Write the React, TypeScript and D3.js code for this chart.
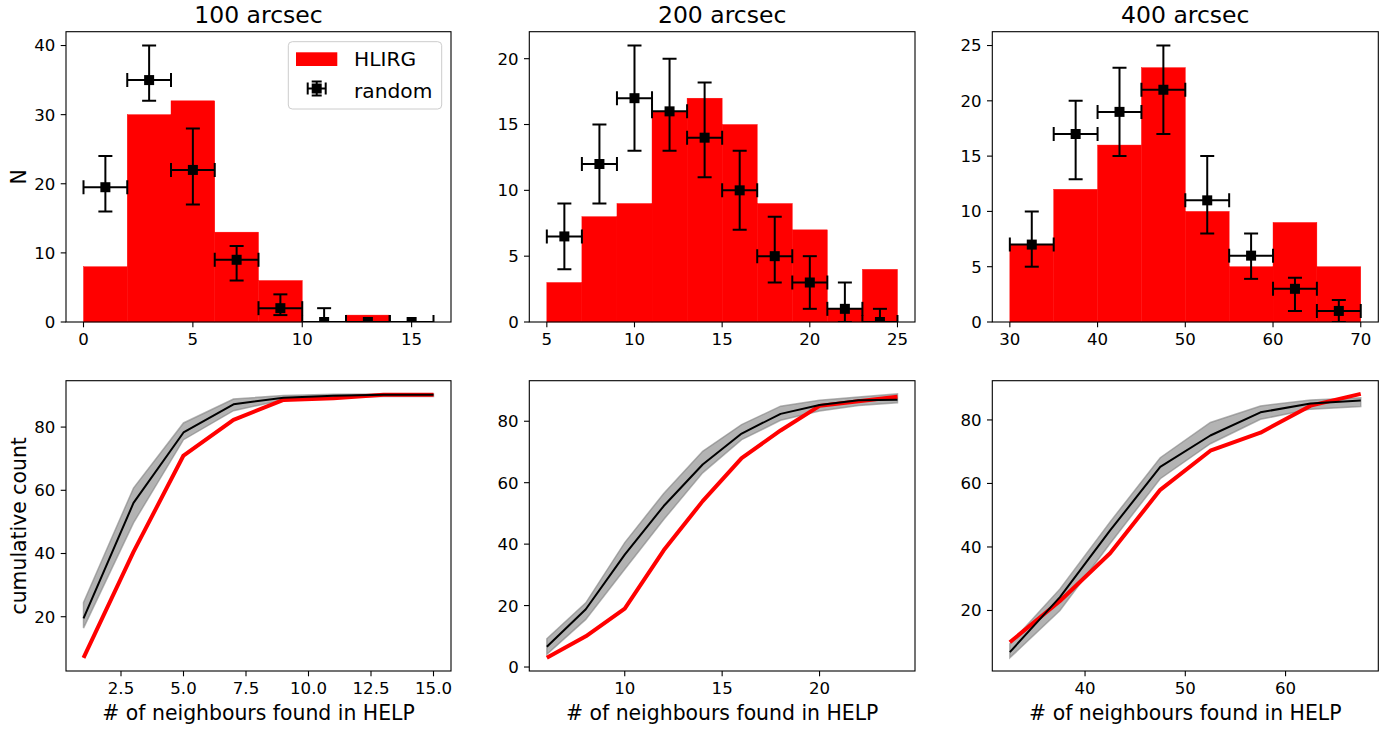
import React from 'react';
import * as d3 from 'd3';

// ---------- data ----------
const titles = ['100 arcsec', '200 arcsec', '400 arcsec'];

// top row: histograms (HLIRG) and random errorbars
const bins100 = [0, 2, 4, 6, 8, 10, 12, 14, 16];
const hlirg100 = [8, 30, 32, 13, 6, 0, 1, 0];
const randX100 = [1, 3, 5, 7, 9, 11, 13, 15];
const rand100 = [19.5, 35, 22, 9, 2, 0, 0, 0];
const rand100Lo = [16, 32, 17, 6, 1, 0, 0, 0];
const rand100Hi = [24, 40, 28, 11, 4, 2, 0, 0];

const bins200 = [5, 7, 9, 11, 13, 15, 17, 19, 21, 23, 25];
const hlirg200 = [3, 8, 9, 16, 17, 15, 9, 7, 1, 4];
const randX200 = [6, 8, 10, 12, 14, 16, 18, 20, 22, 24];
const rand200 = [6.5, 12, 17, 16, 14, 10, 5, 3, 1, 0];
const rand200Lo = [4, 9, 13, 13, 11, 7, 3, 1, 0, 0];
const rand200Hi = [9, 15, 21, 20, 18.2, 13, 8, 5, 3, 1];

const bins400 = [30, 35, 40, 45, 50, 55, 60, 65, 70];
const hlirg400 = [7, 12, 16, 23, 10, 5, 9, 5];
const randX400 = [32.5, 37.5, 42.5, 47.5, 52.5, 57.5, 62.5, 67.5];
const rand400 = [7, 17, 19, 21, 11, 6, 3, 1];
const rand400Lo = [5, 12.9, 15, 17, 8, 3.9, 1, 0];
const rand400Hi = [10, 20, 23, 25, 15, 8, 4, 2];

// bottom row: cumulative counts
const cumX100 = [1, 3, 5, 7, 9, 11, 13, 15];
const cumH100 = [7, 40.5, 71, 82.3, 88.6, 89.1, 90.2, 90.2];
const cumR100 = [19.5, 56, 78.3, 87.2, 89.3, 89.9, 90.2, 90.2];
const band100Lo = [16.4, 49.7, 76, 85.2, 88.6, 89.4, 89.7, 89.7];
const band100Hi = [24.5, 60.7, 81.3, 88.9, 90, 90.4, 90.5, 90.5];

const cumX200 = [6, 8, 10, 12, 14, 16, 18, 20, 22, 24];
const cumH200 = [3, 10, 19, 38, 54, 68, 77, 85, 86.5, 88];
const cumR200 = [6.6, 18.8, 36.6, 52.4, 65.9, 76, 82.4, 85.3, 86.8, 87];
const band200Lo = [4.1, 15.5, 31.8, 48, 63.2, 74, 80.3, 83.3, 85.1, 86];
const band200Hi = [9.2, 20.9, 40.5, 56.5, 70.2, 78.9, 84.9, 86.8, 87.9, 88.9];

const cumX400 = [32.5, 37.5, 42.5, 47.5, 52.5, 57.5, 62.5, 67.5];
const cumH400 = [10, 23, 38, 58, 70.3, 76, 84.5, 88.2];
const cumR400 = [6.9, 24.2, 45.2, 65.2, 75.1, 82.4, 85.2, 86.1];
const band400Lo = [5.1, 20, 41.1, 61.5, 72.5, 80.2, 83.4, 84.2];
const band400Hi = [9.5, 26.8, 47.9, 68.1, 79.2, 84.4, 86.3, 87];

const topXTicks = [[0, 5, 10, 15], [5, 10, 15, 20, 25], [30, 40, 50, 60, 70]];
const topYTicks = [[0, 10, 20, 30, 40], [0, 5, 10, 15, 20], [0, 5, 10, 15, 20, 25]];
const botXTicks = [[2.5, 5, 7.5, 10, 12.5, 15], [10, 15, 20], [40, 50, 60]];
const botYTicks = [[20, 40, 60, 80], [0, 20, 40, 60, 80], [20, 40, 60, 80]];
const botXFmt = ['.1f', 'd', 'd'];

const legendLabels = ['HLIRG', 'random'];
const yLabelTop = 'N';
const yLabelBot = 'cumulative count';
const xLabelBot = '# of neighbours found in HELP';

// ---------- layout ----------
const COLS = [
  { x0: 66, x1: 451 },
  { x0: 529.3, x1: 915 },
  { x0: 992.3, x1: 1378.3 },
];
const TOP = { y0: 31.7, y1: 322 };
const BOT = { y0: 380.7, y1: 671 };
const FONT = 'DejaVu Sans, sans-serif';
const TICK = 5.3;
const PAD = 5.3;
const CAP = 7;
const RED = '#ff0000';
const TFS = 16.6;

const topData = [
  { bins: bins100, h: hlirg100, rx: randX100, r: rand100, lo: rand100Lo, hi: rand100Hi },
  { bins: bins200, h: hlirg200, rx: randX200, r: rand200, lo: rand200Lo, hi: rand200Hi },
  { bins: bins400, h: hlirg400, rx: randX400, r: rand400, lo: rand400Lo, hi: rand400Hi },
];
const botData = [
  { x: cumX100, h: cumH100, r: cumR100, lo: band100Lo, hi: band100Hi },
  { x: cumX200, h: cumH200, r: cumR200, lo: band200Lo, hi: band200Hi },
  { x: cumX400, h: cumH400, r: cumR400, lo: band400Lo, hi: band400Hi },
];

function Axes({ x, y, box, xTicks, yTicks, xFmt }: any) {
  const fx = d3.format(xFmt || 'd');
  return (
    <g>
      <rect x={box.x0} y={box.y0} width={box.x1 - box.x0} height={box.y1 - box.y0} fill="none" stroke="#000" strokeWidth={1.1} />
      {xTicks.map((t: number) => (
        <g key={'x' + t}>
          <line x1={x(t)} x2={x(t)} y1={box.y1} y2={box.y1 + TICK} stroke="#000" strokeWidth={1.1} />
          <text x={x(t)} y={box.y1 + TICK + PAD + 12.2} fontSize={TFS} textAnchor="middle" fontFamily={FONT} fill="#000">{fx(t)}</text>
        </g>
      ))}
      {yTicks.map((t: number) => (
        <g key={'y' + t}>
          <line x1={box.x0 - TICK} x2={box.x0} y1={y(t)} y2={y(t)} stroke="#000" strokeWidth={1.1} />
          <text x={box.x0 - TICK - PAD} y={y(t)} dy="0.36em" fontSize={TFS} textAnchor="end" fontFamily={FONT} fill="#000">{t}</text>
        </g>
      ))}
    </g>
  );
}

function ErrBar({ cx, cy, xl, xr, yl, yh, clip }: any) {
  return (
    <g clipPath={clip} stroke="#000" strokeWidth={2}>
      <line x1={xl} x2={xr} y1={cy} y2={cy} />
      <line x1={xl} x2={xl} y1={cy - CAP} y2={cy + CAP} />
      <line x1={xr} x2={xr} y1={cy - CAP} y2={cy + CAP} />
      {Math.abs(yl - yh) > 0.5 && (
        <g>
          <line x1={cx} x2={cx} y1={yl} y2={yh} />
          <line x1={cx - CAP} x2={cx + CAP} y1={yl} y2={yl} />
          <line x1={cx - CAP} x2={cx + CAP} y1={yh} y2={yh} />
        </g>
      )}
      <rect x={cx - 5} y={cy - 5} width={10} height={10} fill="#000" stroke="none" />
    </g>
  );
}

function TopPanel({ i }: { i: number }) {
  const d = topData[i];
  const col = COLS[i];
  const box = { ...col, ...TOP };
  const xMin = d.bins[0];
  const xMax = d.bins[d.bins.length - 1];
  const pad = (xMax - xMin) * 0.05;
  const x = d3.scaleLinear().domain([xMin - pad, xMax + pad]).range([col.x0, col.x1]);
  const y = d3.scaleLinear().domain([0, (d3.max(d.hi) as number) * 1.05]).range([TOP.y1, TOP.y0]);
  const hw = (d.bins[1] - d.bins[0]) / 2;
  const clipId = 'clipT' + i;
  return (
    <g>
      <defs>
        <clipPath id={clipId}>
          <rect x={box.x0} y={box.y0} width={box.x1 - box.x0} height={box.y1 - box.y0} />
        </clipPath>
      </defs>
      {d.h.map((v, k) =>
        v > 0 ? (
          <rect key={k} x={x(d.bins[k])} y={y(v)} width={x(d.bins[k + 1]) - x(d.bins[k])} height={y(0) - y(v)} fill={RED} stroke={RED} strokeWidth={0.4} />
        ) : null
      )}
      {d.rx.map((xv, k) => (
        <ErrBar key={k} cx={x(xv)} cy={y(d.r[k])} xl={x(xv - hw)} xr={x(xv + hw)} yl={y(d.lo[k])} yh={y(d.hi[k])} clip={`url(#${clipId})`} />
      ))}
      <Axes x={x} y={y} box={box} xTicks={topXTicks[i]} yTicks={topYTicks[i]} />
      <text x={(col.x0 + col.x1) / 2} y={23} fontSize={23.5} textAnchor="middle" fontFamily={FONT} fill="#000">{titles[i]}</text>
    </g>
  );
}

function BotPanel({ i }: { i: number }) {
  const d = botData[i];
  const col = COLS[i];
  const box = { ...col, ...BOT };
  const [xa, xb] = d3.extent(d.x) as [number, number];
  const xp = (xb - xa) * 0.05;
  const x = d3.scaleLinear().domain([xa - xp, xb + xp]).range([col.x0, col.x1]);
  const all = [...d.h, ...d.r, ...d.lo, ...d.hi];
  const [ya, yb] = d3.extent(all) as [number, number];
  const yp = (yb - ya) * 0.05;
  const y = d3.scaleLinear().domain([ya - yp, yb + yp]).range([BOT.y1, BOT.y0]);
  const idx = d.x.map((_, k) => k);
  const area = d3.area<number>().x((k) => x(d.x[k])).y0((k) => y(d.lo[k])).y1((k) => y(d.hi[k]));
  const lineH = d3.line<number>().x((k) => x(d.x[k])).y((k) => y(d.h[k]));
  const lineR = d3.line<number>().x((k) => x(d.x[k])).y((k) => y(d.r[k]));
  return (
    <g>
      <path d={area(idx) || ''} fill="#808080" fillOpacity={0.6} stroke="#808080" strokeOpacity={0.6} strokeWidth={1.5} />
      <path d={lineH(idx) || ''} fill="none" stroke={RED} strokeWidth={4} strokeLinejoin="round" />
      <path d={lineR(idx) || ''} fill="none" stroke="#000" strokeWidth={2} strokeLinejoin="round" />
      <Axes x={x} y={y} box={box} xTicks={botXTicks[i]} yTicks={botYTicks[i]} xFmt={botXFmt[i]} />
      <text x={(col.x0 + col.x1) / 2} y={720} fontSize={20.4} textAnchor="middle" fontFamily={FONT} fill="#000">{xLabelBot}</text>
    </g>
  );
}

function Legend() {
  const cx = 316.7;
  const cy = 88.5;
  return (
    <g>
      <rect x={288.3} y={41.7} width={153.4} height={67.3} rx={4} fill="#fff" fillOpacity={0.8} stroke="#cccccc" strokeWidth={1} />
      <rect x={296} y={52.3} width={41.3} height={13.7} fill={RED} />
      <text x={354} y={66} fontSize={20.2} fontFamily={FONT} fill="#000">{legendLabels[0]}</text>
      <g stroke="#000" strokeWidth={2}>
        <line x1={cx - 9} x2={cx + 9} y1={cy} y2={cy} />
        <line x1={cx - 9} x2={cx - 9} y1={cy - 6} y2={cy + 6} />
        <line x1={cx + 9} x2={cx + 9} y1={cy - 6} y2={cy + 6} />
        <line x1={cx} x2={cx} y1={cy - 7} y2={cy + 7} />
        <line x1={cx - 5} x2={cx + 5} y1={cy - 7} y2={cy - 7} />
        <line x1={cx - 5} x2={cx + 5} y1={cy + 7} y2={cy + 7} />
      </g>
      <rect x={cx - 5} y={cy - 5} width={10} height={10} fill="#000" />
      <text x={354} y={97.5} fontSize={20.2} fontFamily={FONT} fill="#000">{legendLabels[1]}</text>
    </g>
  );
}

export default function App() {
  return (
    <svg width={1394} height={731} style={{ position: 'absolute', left: 0, top: 0, background: '#fff' }}>
      <rect x={0} y={0} width={1394} height={731} fill="#fff" />
      {[0, 1, 2].map((i) => <TopPanel key={'t' + i} i={i} />)}
      {[0, 1, 2].map((i) => <BotPanel key={'b' + i} i={i} />)}
      <Legend />
      <text transform={`translate(26,${(TOP.y0 + TOP.y1) / 2}) rotate(-90)`} fontSize={20.4} textAnchor="middle" fontFamily={FONT} fill="#000">{yLabelTop}</text>
      <text transform={`translate(26,${(BOT.y0 + BOT.y1) / 2}) rotate(-90)`} fontSize={20.4} textAnchor="middle" fontFamily={FONT} fill="#000">{yLabelBot}</text>
    </svg>
  );
}
